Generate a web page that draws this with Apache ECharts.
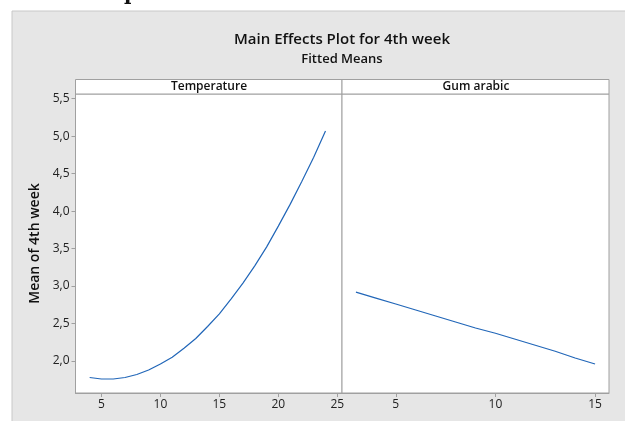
<!DOCTYPE html>
<html>
<head>
<meta charset="utf-8">
<script src="https://cdn.jsdelivr.net/npm/echarts@6/dist/echarts.min.js"></script>
<style>
  html, body { margin: 0; padding: 0; background: #fff; }
  #chart { width: 625px; height: 421px; }
</style>
</head>
<body>
<div id="chart"></div>
<script>
// Temperature panel
var tempX = [4, 5, 6, 7, 8, 9, 10, 11, 12, 13, 14, 15, 16, 17, 18, 19, 20, 21, 22, 23, 24];
var tempY = [1.78, 1.76, 1.76, 1.78, 1.82, 1.88, 1.96, 2.05, 2.17, 2.30, 2.46, 2.63, 2.83, 3.04, 3.27, 3.52, 3.80, 4.09, 4.40, 4.72, 5.07];
// Gum arabic panel
var gumX = [3, 4, 5, 6, 7, 8, 9, 10, 11, 12, 13, 14, 15];
var gumY = [2.92, 2.84, 2.76, 2.68, 2.60, 2.52, 2.44, 2.37, 2.29, 2.21, 2.13, 2.04, 1.96];

var yTicks = [2.0, 2.5, 3.0, 3.5, 4.0, 4.5, 5.0, 5.5];
var tempTicks = [5, 10, 15, 20, 25];
var gumTicks = [5, 10, 15];

var font = '"Open Sans", sans-serif';
var gray = '#a0a0a0';
var lineColor = '#2166b8';

function pairs(xs, ys) {
    return xs.map(function (x, i) { return [x, ys[i]]; });
}

var myChart = echarts.init(document.getElementById('chart'));

var xAxisBase = function (gridIndex, min, max, ticks) {
    return {
        type: 'value', gridIndex: gridIndex, min: min, max: max,
        splitLine: { show: false },
        axisLine: { show: true, lineStyle: { color: gray } },
        axisTick: { show: true, length: 4, lineStyle: { color: gray }, customValues: ticks },
        axisLabel: { fontFamily: font, fontSize: 12, color: '#222', margin: 6, customValues: ticks }
    };
};

option = {
    animation: false,
    backgroundColor: '#fff',
    graphic: [
        { type: 'rect', shape: { x: 12, y: 11, width: 620, height: 420 },
          style: { fill: '#e6e6e6', stroke: '#c8c8c8', lineWidth: 1 }, z: -10 },
        { type: 'text', left: 124, top: -15, style: { text: 'p', font: 'bold 20px "DejaVu Serif", serif', fill: '#111' } },
        { type: 'text', x: 342, y: 40, style: { text: 'Main Effects Plot for 4th week', font: '600 15px "Open Sans", sans-serif', fill: '#111', align: 'center', verticalAlign: 'middle' } },
        { type: 'text', x: 342, y: 59, style: { text: 'Fitted Means', font: '600 13px "Open Sans", sans-serif', fill: '#111', align: 'center', verticalAlign: 'middle' } },
        { type: 'rect', shape: { x: 75.5, y: 79.5, width: 266.5, height: 14.5 },
          style: { fill: '#fff', stroke: gray, lineWidth: 1 } },
        { type: 'rect', shape: { x: 342, y: 79.5, width: 267, height: 14.5 },
          style: { fill: '#fff', stroke: gray, lineWidth: 1 } },
        { type: 'text', x: 209, y: 87, style: { text: 'Temperature', font: '600 12px "Open Sans", sans-serif', fill: '#111', align: 'center', verticalAlign: 'middle' } },
        { type: 'text', x: 476, y: 87, style: { text: 'Gum arabic', font: '600 12px "Open Sans", sans-serif', fill: '#111', align: 'center', verticalAlign: 'middle' } }
    ],
    grid: [
        { left: 75.5, width: 266.5, top: 94, height: 299, show: true, backgroundColor: '#fff', borderColor: gray, borderWidth: 1 },
        { left: 342, width: 267, top: 94, height: 299, show: true, backgroundColor: '#fff', borderColor: gray, borderWidth: 1 }
    ],
    xAxis: [
        xAxisBase(0, 2.8, 25.4, tempTicks),
        xAxisBase(1, 2.3, 15.7, gumTicks)
    ],
    yAxis: [
        {
            type: 'value', gridIndex: 0, min: 1.573, max: 5.563,
            name: 'Mean of 4th week', nameLocation: 'middle', nameGap: 33, nameRotate: 90,
            nameTextStyle: { fontFamily: font, fontSize: 14, fontWeight: 600, color: '#111' },
            splitLine: { show: false },
            axisLine: { show: true, lineStyle: { color: gray } },
            axisTick: { show: true, length: 4, lineStyle: { color: gray }, customValues: yTicks },
            axisLabel: {
                fontFamily: font, fontSize: 12, color: '#222', margin: 6, customValues: yTicks,
                formatter: function (v) { return v.toFixed(1).replace('.', ','); }
            }
        },
        {
            type: 'value', gridIndex: 1, min: 1.573, max: 5.563,
            show: false, splitLine: { show: false }
        }
    ],
    series: [
        {
            name: 'Temperature', type: 'line', xAxisIndex: 0, yAxisIndex: 0,
            data: pairs(tempX, tempY), showSymbol: false, smooth: false,
            lineStyle: { color: lineColor, width: 1.2 }
        },
        {
            name: 'Gum arabic', type: 'line', xAxisIndex: 1, yAxisIndex: 1,
            data: pairs(gumX, gumY), showSymbol: false, smooth: false,
            lineStyle: { color: lineColor, width: 1.2 }
        }
    ]
};
myChart.setOption(option);
</script>
</body>
</html>
